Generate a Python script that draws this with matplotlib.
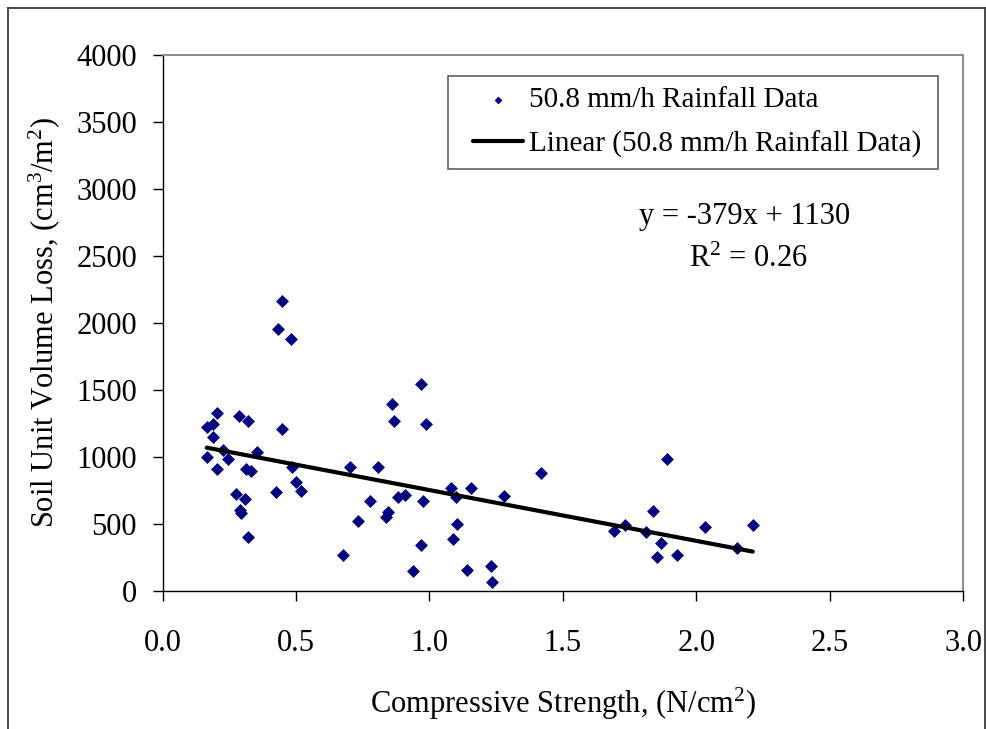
import matplotlib
matplotlib.use("Agg")
import matplotlib.pyplot as plt
import numpy as np
from matplotlib.lines import Line2D
from matplotlib.collections import PathCollection
from matplotlib.legend_handler import HandlerLine2D, HandlerPathCollection

plt.rcParams['font.family'] = ['Liberation Serif', 'DejaVu Serif']
plt.rcParams['mathtext.fontset'] = 'custom'
plt.rcParams['mathtext.rm'] = 'Liberation Serif'
plt.rcParams['mathtext.it'] = 'Liberation Serif:italic'

# ---- data ----
strength = [0.449, 0.434, 0.480, 0.203, 0.287, 0.321, 0.167, 0.188, 0.449, 0.188,
            0.225, 0.165, 0.246, 0.352, 0.203, 0.312, 0.331, 0.486, 0.275, 0.309,
            0.290, 0.292, 0.425, 0.500, 0.517, 0.321, 0.702, 0.808, 0.777, 0.733,
            0.675,
            0.967, 0.861, 0.868, 0.988, 1.417, 1.081, 1.155, 1.100, 1.281, 0.883,
            0.910, 0.975, 0.846, 0.837, 1.102, 1.087, 0.967, 0.937, 1.140, 1.230,
            1.236,
            1.889, 1.837, 1.733, 1.693, 1.812, 1.867, 1.852, 1.927, 2.031, 2.212,
            2.152]
volume_loss = [2164, 1955, 1878, 1328, 1304, 1269, 1224, 1244, 1209, 1149,
               1050, 1000, 981, 1033, 908, 908, 893, 921, 719, 684,
               602, 582, 734, 813, 744, 403, 925, 925, 672, 522,
               266,
               1540, 1391, 1269, 1242, 881, 769, 764, 697, 707, 701,
               716, 672, 590, 552, 496, 388, 343, 149, 152, 182,
               63,
               983, 597, 490, 448, 436, 358, 254, 266, 478, 490,
               316]
fit_slope = -379
fit_intercept = 1130
r_squared = 0.26
series_label = "50.8 mm/h Rainfall Data"
trend_label = "Linear (50.8 mm/h Rainfall Data)"
x_ticks = [0.0, 0.5, 1.0, 1.5, 2.0, 2.5, 3.0]
y_ticks = [0, 500, 1000, 1500, 2000, 2500, 3000, 3500, 4000]

W, H = 987, 729
fig = plt.figure(figsize=(W / 100, H / 100), dpi=100)
ax_l, ax_r, ax_t, ax_b = 162.7, 963.0, 54.7, 590.7
ax = fig.add_axes([ax_l / W, 1 - ax_b / H, (ax_r - ax_l) / W, (ax_b - ax_t) / H])

ax.scatter(strength, volume_loss, marker='D', s=6.6 ** 2, color='#000080',
           linewidths=0, zorder=3, label=series_label)
xs = np.array([min(strength), max(strength)])
ax.plot(xs, fit_slope * xs + fit_intercept, color='black', lw=3.0,
        solid_capstyle='round', zorder=4, label=trend_label)

ax.set_xlim(0, 3.0)
ax.set_ylim(0, 4000)
ax.set_xticks(x_ticks)
ax.set_xticklabels([f"{v:.1f}" for v in x_ticks])
ax.set_yticks(y_ticks)
ax.set_yticklabels([str(v) for v in y_ticks])

fs = 22
ax.tick_params(axis='both', direction='out', length=7.5, width=1.0,
               color='black', labelsize=fs)
ax.tick_params(axis='x', pad=20)
ax.tick_params(axis='y', pad=11)

for side in ['left', 'bottom']:
    ax.spines[side].set_color('black')
    ax.spines[side].set_linewidth(1.0)
for side in ['top', 'right']:
    ax.spines[side].set_color('#8c8c8c')
    ax.spines[side].set_linewidth(1.4)

ax.set_xlabel(r"Compressive Strength, (N/cm$^2$)", fontsize=fs, va='baseline')
ax.xaxis.set_label_coords(0.5, (ax_b - 713) / (ax_b - ax_t))
ax.set_ylabel(r"Soil Unit Volume Loss, (cm$^3$/m$^2$)", fontsize=fs,
              va='baseline', rotation_mode='anchor')
ax.yaxis.set_label_coords((53.5 - ax_l) / (ax_r - ax_l), 0.5)

# legend box
lfs = 21
lx0, lx1, ly0 = 448, 938, 76
xpad = 0.48
leg = ax.legend(loc='upper left',
                bbox_to_anchor=((lx0 - ax_l) / (ax_r - ax_l), (ax_b - ly0) / (ax_b - ax_t),
                                (lx1 - lx0) / (ax_r - ax_l), 0.0),
                mode='expand', borderaxespad=0, fontsize=lfs, fancybox=False,
                framealpha=1, edgecolor='#606060', handlelength=1.71 + xpad,
                handletextpad=0.22, labelspacing=0.6, borderpad=0.37,
                markerscale=0.6,
                handler_map={PathCollection: HandlerPathCollection(xpad=xpad),
                             Line2D: HandlerLine2D(xpad=xpad)})
leg.get_frame().set_linewidth(1.2)

ax.text(2.18, 2790, f"y = {fit_slope}x + {fit_intercept}", fontsize=fs,
        ha='center', va='center')
ax.text(2.195, 2470, f"R$^2$ = {r_squared:.2f}", fontsize=fs,
        ha='center', va='center')

# outer border of the chart area
bc = '#3a3a3a'
for (x0, y0, x1, y1) in [(8, 8, 8, H), (8, 8, 985, 8), (985, 8, 985, H)]:
    fig.add_artist(Line2D([x0 / W, x1 / W], [1 - y0 / H, 1 - y1 / H],
                          transform=fig.transFigure, color=bc, lw=1.3))

fig.savefig("out.png", dpi=100)
